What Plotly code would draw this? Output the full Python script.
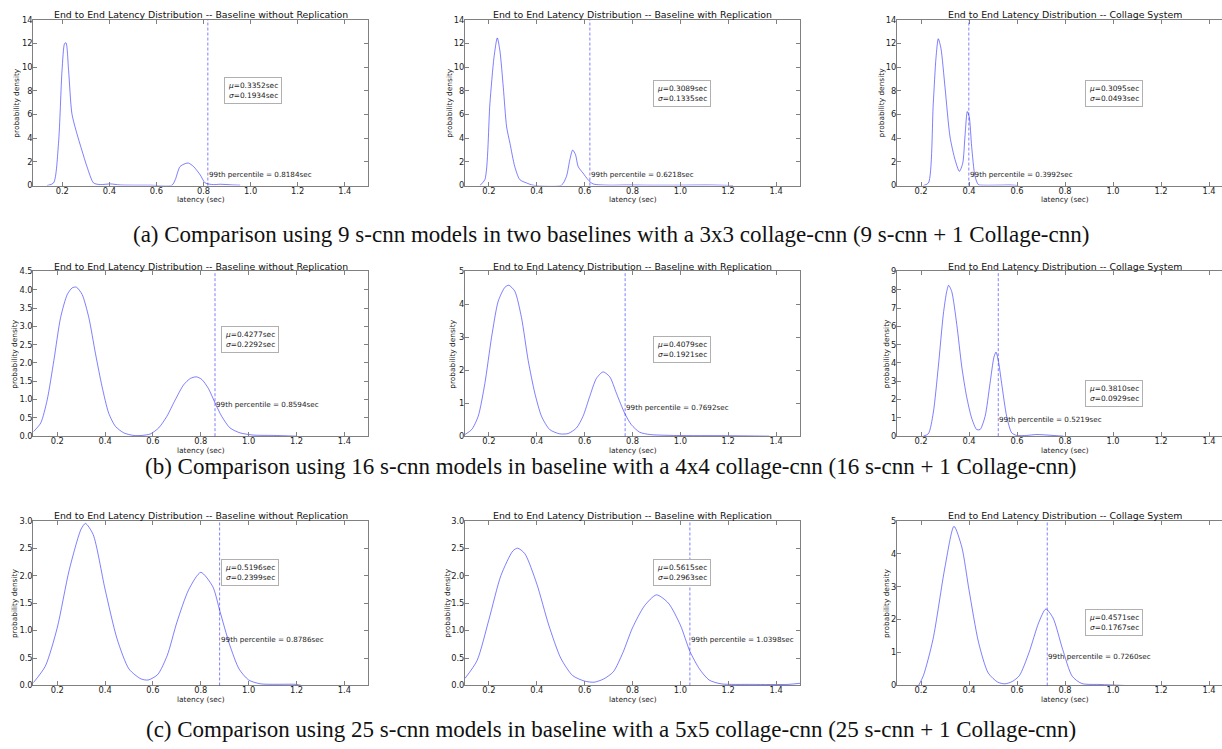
import plotly.graph_objects as go

# ---------------- data ----------------
TITLES = [
    "End to End Latency Distribution -- Baseline without Replication",
    "End to End Latency Distribution -- Baseline with Replication",
    "End to End Latency Distribution -- Collage System",
]
CAPTIONS = [
    "(a) Comparison using 9 s-cnn models in two baselines with a 3x3 collage-cnn (9 s-cnn + 1 Collage-cnn)",
    "(b) Comparison using 16 s-cnn models in baseline with a 4x4 collage-cnn (16 s-cnn + 1 Collage-cnn)",
    "(c) Comparison using 25 s-cnn models in baseline with a 5x5 collage-cnn (25 s-cnn + 1 Collage-cnn)",
]
X_TICKS = [0.2, 0.4, 0.6, 0.8, 1.0, 1.2, 1.4]

P99 = [[0.8184, 0.6218, 0.3992], [0.8594, 0.7692, 0.5219], [0.8786, 1.0398, 0.7260]]
MU = [[0.3352, 0.3089, 0.3095], [0.4277, 0.4079, 0.3810], [0.5196, 0.5615, 0.4571]]
SIGMA = [[0.1934, 0.1335, 0.0493], [0.2292, 0.1921, 0.0929], [0.2399, 0.2963, 0.1767]]

# row (a)
a1_x = [0.135, 0.163, 0.184, 0.199, 0.210, 0.216, 0.227, 0.241, 0.262, 0.283, 0.305, 0.333, 0.361, 0.404,
        0.446, 0.574, 0.666, 0.680, 0.700, 0.722, 0.736, 0.758, 0.786, 0.807, 0.842, 0.871, 0.927, 0.956]
a1_y = [0.0, 0.22, 3.56, 9.7, 12.0, 12.05, 9.7, 6.07, 4.4, 3.0, 1.6, 0.22, 0.08, 0.14,
        0.05, 0.03, 0.03, 0.5, 1.6, 1.85, 1.9, 1.6, 0.9, 0.22, 0.08, 0.11, 0.05, 0.03]
a2_x = [0.162, 0.183, 0.204, 0.221, 0.235, 0.246, 0.260, 0.274, 0.288, 0.308, 0.329, 0.357, 0.385, 0.503,
        0.524, 0.538, 0.550, 0.562, 0.573, 0.593, 0.614, 0.635, 0.705, 0.774, 0.872, 0.983, 1.12, 1.22]
a2_y = [0.0, 0.5, 6.9, 10.8, 12.47, 11.36, 8.3, 4.95, 3.56, 1.6, 0.5, 0.22, 0.03, 0.03,
        0.78, 2.17, 3.0, 2.6, 1.6, 1.06, 0.5, 0.14, 0.03, 0.05, 0.03, 0.03, 0.05, 0.0]
a3_x = [0.21, 0.231, 0.251, 0.2625, 0.272, 0.283, 0.300, 0.321, 0.342, 0.360, 0.374, 0.383, 0.393, 0.401,
        0.411, 0.425, 0.439, 0.46, 0.543, 0.571, 0.605]
a3_y = [0.0, 0.22, 6.9, 10.8, 12.4, 11.6, 8.3, 4.1, 2.17, 1.2, 1.9, 4.1, 6.25, 5.8,
        3.3, 0.78, 0.08, 0.03, 0.04, 0.05, 0.0]

# row (b)
b1_x = [0.1, 0.131, 0.158, 0.186, 0.214, 0.242, 0.2625, 0.28, 0.304, 0.332, 0.36, 0.3875, 0.415, 0.443,
        0.478, 0.519, 0.554, 0.589, 0.624, 0.658, 0.693, 0.728, 0.756, 0.781, 0.804, 0.832, 0.86, 0.8875,
        0.922, 0.964, 1.019, 1.103, 1.2]
b1_y = [0.12, 0.36, 0.99, 2.07, 3.24, 3.87, 4.05, 4.07, 3.87, 3.24, 2.25, 1.35, 0.63, 0.27,
        0.09, 0.02, 0.02, 0.06, 0.225, 0.54, 0.99, 1.4, 1.575, 1.62, 1.55, 1.3, 0.9, 0.54,
        0.225, 0.09, 0.03, 0.02, 0.0]
b2_x = [0.1, 0.128, 0.155, 0.183, 0.211, 0.239, 0.267, 0.283, 0.308, 0.336, 0.364, 0.392, 0.42, 0.454,
        0.496, 0.531, 0.566, 0.593, 0.621, 0.649, 0.677, 0.705, 0.733, 0.767, 0.795, 0.83, 0.872, 0.983,
        1.191, 1.372]
b2_y = [0.05, 0.2, 0.6, 1.6, 3.0, 4.1, 4.52, 4.58, 4.4, 3.6, 2.3, 1.3, 0.6, 0.2,
        0.07, 0.08, 0.25, 0.6, 1.2, 1.75, 1.95, 1.8, 1.3, 0.7, 0.35, 0.12, 0.05, 0.02,
        0.015, 0.0]
b3_x = [0.21, 0.231, 0.251, 0.272, 0.293, 0.307, 0.315, 0.328, 0.349, 0.37, 0.39, 0.411, 0.432, 0.446,
        0.467, 0.4875, 0.504, 0.5125, 0.522, 0.536, 0.557, 0.578, 0.599, 0.64, 0.682, 0.7375, 0.793]
b3_y = [0.0, 0.14, 1.26, 3.78, 6.66, 7.9, 8.24, 7.9, 6.1, 3.78, 2.16, 0.99, 0.36, 0.36,
        1.08, 2.88, 4.32, 4.59, 4.14, 2.88, 1.08, 0.18, 0.04, 0.04, 0.09, 0.05, 0.0]

# row (c)
c1_x = [0.1, 0.15, 0.2, 0.25, 0.3, 0.318, 0.35, 0.4, 0.45, 0.5, 0.55, 0.58, 0.62, 0.66, 0.7, 0.75,
        0.8, 0.85, 0.88, 0.92, 0.96, 1.0, 1.05, 1.2, 1.22]
c1_y = [0.05, 0.35, 1.05, 2.1, 2.85, 2.95, 2.75, 1.75, 0.85, 0.3, 0.12, 0.1, 0.2, 0.55, 1.15, 1.75,
        2.06, 1.8, 1.35, 0.75, 0.3, 0.1, 0.03, 0.02, 0.0]
c2_x = [0.1, 0.15, 0.2, 0.25, 0.3, 0.32, 0.35, 0.4, 0.45, 0.5, 0.55, 0.6, 0.64, 0.68, 0.72, 0.76,
        0.8, 0.85, 0.9, 0.95, 1.0, 1.04, 1.08, 1.12, 1.17, 1.3, 1.45, 1.5]
c2_y = [0.13, 0.45, 1.2, 2.0, 2.45, 2.5, 2.4, 1.85, 1.1, 0.5, 0.18, 0.08, 0.06, 0.12, 0.25, 0.6,
        1.05, 1.45, 1.65, 1.5, 1.1, 0.62, 0.3, 0.1, 0.03, 0.02, 0.02, 0.04]
c3_x = [0.19, 0.21, 0.25, 0.3, 0.3375, 0.37, 0.4, 0.44, 0.48, 0.52, 0.55, 0.58, 0.61, 0.65, 0.69,
        0.72, 0.75, 0.79, 0.83, 0.87, 0.95, 1.05]
c3_y = [0.0, 0.3, 1.4, 3.6, 4.83, 4.2, 2.9, 1.3, 0.38, 0.1, 0.05, 0.12, 0.3, 1.0, 1.9,
        2.32, 2.05, 1.1, 0.28, 0.06, 0.03, 0.0]

CURVES_X = [[a1_x, a2_x, a3_x], [b1_x, b2_x, b3_x], [c1_x, c2_x, c3_x]]
CURVES_Y = [[a1_y, a2_y, a3_y], [b1_y, b2_y, b3_y], [c1_y, c2_y, c3_y]]

Y_MAX = [[14, 14, 14], [4.5, 5, 9], [3.0, 3.0, 5]]
Y_STEP = [[2, 2, 2], [0.5, 1, 1], [0.5, 0.5, 1]]

# ---------------- layout geometry (pixels) ----------------
W, H = 1222, 749
COL_PX = [(33.3, 368.3), (465.0, 800.0), (897.0, 1222.0)]
X_RANGE = [[(0.077, 1.5), (0.1, 1.5), (0.1, 1.454)],
           [(0.1, 1.5), (0.1, 1.5), (0.1, 1.454)],
           [(0.1, 1.5), (0.1, 1.5), (0.1, 1.454)]]
ROW_PX = [(15.0, 183.0), (270.0, 437.0), (522.7, 689.7)]
CAPTION_Y = [233, 468, 734]
P99_LABEL_Y = [[0.97, 0.97, 0.97], [0.87, 0.87, 0.9], [0.83, 0.83, 0.87]]
BOX_TOP = [[0.657, 0.637, 0.637], [0.67, 0.61, 0.34], [0.77, 0.77, 0.467]]
BOX_X = 0.885
YLAB_OFF = [[16.3, 15, 15.3], [18.3, 12, 10.3], [19.3, 18.3, 11]]

CURVE = "rgba(0,0,255,0.5)"
AXIS_LINE = "#808080"
TXT = "#222222"
FONT = "DejaVu Sans"

fig = go.Figure()
layout = dict(
    width=W, height=H, margin=dict(l=0, r=0, t=0, b=0),
    paper_bgcolor="white", plot_bgcolor="white", showlegend=False,
    font=dict(family=FONT, color=TXT),
)
shapes, annotations = [], []

for r in range(3):
    for c in range(3):
        k = r * 3 + c + 1
        sfx = "" if k == 1 else str(k)
        xa, ya = "x" + sfx, "y" + sfx
        fig.add_trace(go.Scatter(
            x=CURVES_X[r][c], y=CURVES_Y[r][c], mode="lines",
            line=dict(color=CURVE, width=1, shape="spline", smoothing=0.7),
            xaxis=xa, yaxis=ya, hoverinfo="skip",
        ))
        x0, x1 = COL_PX[c]
        y0, y1 = ROW_PX[r]
        ymax, ystep = Y_MAX[r][c], Y_STEP[r][c]
        n = int(round(ymax / ystep))
        yvals = [i * ystep for i in range(n + 1)]
        fmt = "{:.1f}" if ystep < 1 else "{:.0f}"
        layout["xaxis" + sfx] = dict(
            domain=[x0 / W, x1 / W], range=list(X_RANGE[r][c]), anchor=ya,
            tickvals=X_TICKS, ticktext=["%.1f" % v for v in X_TICKS],
            ticks="inside", ticklen=4, tickcolor=AXIS_LINE, mirror="ticks",
            showline=True, linecolor=AXIS_LINE, linewidth=1, ticklabelstandoff=-3,
            showgrid=False, zeroline=False, tickfont=dict(size=8.3, color=TXT, family=FONT),
        )
        layout["yaxis" + sfx] = dict(
            domain=[1 - y1 / H, 1 - y0 / H], range=[0, ymax], anchor=xa,
            tickvals=yvals, ticktext=[fmt.format(v) for v in yvals],
            ticks="inside", ticklen=4, tickcolor=AXIS_LINE,
            mirror=("ticks" if c < 2 else False), ticklabelstandoff=-2,
            showline=True, linecolor=AXIS_LINE, linewidth=1,
            showgrid=False, zeroline=False, tickfont=dict(size=8.3, color=TXT, family=FONT),
        )
        # 99th percentile line + label
        p = P99[r][c]
        shapes.append(dict(type="line", xref=xa, yref=ya + " domain", x0=p, x1=p, y0=0, y1=1,
                           line=dict(color=CURVE, width=1, dash="3px,2px")))
        annotations.append(dict(xref=xa, yref=ya, x=p, y=P99_LABEL_Y[r][c], xanchor="left",
                                yanchor="middle", showarrow=False, borderpad=0,
                                text="99th percentile = %.4fsec" % p,
                                font=dict(size=7.2, color=TXT, family=FONT)))
        # mu / sigma box
        annotations.append(dict(xref=xa, yref=ya + " domain", x=BOX_X, y=BOX_TOP[r][c],
                                xanchor="left", yanchor="top", showarrow=False, align="left",
                                text="<i>μ</i>=%.4fsec<br><i>σ</i>=%.4fsec" % (MU[r][c], SIGMA[r][c]),
                                bgcolor="white", bordercolor="#b0b0b0", borderwidth=1, borderpad=3,
                                font=dict(size=7.4, color=TXT, family=FONT)))
        # title
        cx = ((x0 + 167.5) if c == 2 else (x0 + x1) / 2) / W
        annotations.append(dict(xref="paper", yref=ya + " domain", x=cx,
                                y=1, yshift=5, xanchor="center", yanchor="middle", showarrow=False,
                                text=TITLES[c], font=dict(size=9.4, color="#111111", family=FONT)))
        # x label
        annotations.append(dict(xref="paper", yref=ya + " domain", x=cx,
                                y=0, yshift=-14, xanchor="center", yanchor="middle", showarrow=False,
                                text="latency (sec)", font=dict(size=7.4, color=TXT, family=FONT)))
        # y label
        annotations.append(dict(xref=xa + " domain", yref=ya + " domain", x=0, y=0.5,
                                xshift=-YLAB_OFF[r][c], xanchor="center", yanchor="middle",
                                textangle=-90, showarrow=False, text="probability density",
                                font=dict(size=7.4, color=TXT, family=FONT)))

for i, cap in enumerate(CAPTIONS):
    annotations.append(dict(xref="paper", yref="paper", x=0.5, y=1 - CAPTION_Y[i] / H,
                            xanchor="center", yanchor="middle", showarrow=False, text=cap,
                            font=dict(size=23, color="#111111", family="Liberation Serif")))

layout["shapes"] = shapes
layout["annotations"] = annotations
fig.update_layout(**layout)
fig.write_html("out.html", config={"displayModeBar": False},
               post_script="document.body.style.margin='0';document.body.style.padding='0';")
